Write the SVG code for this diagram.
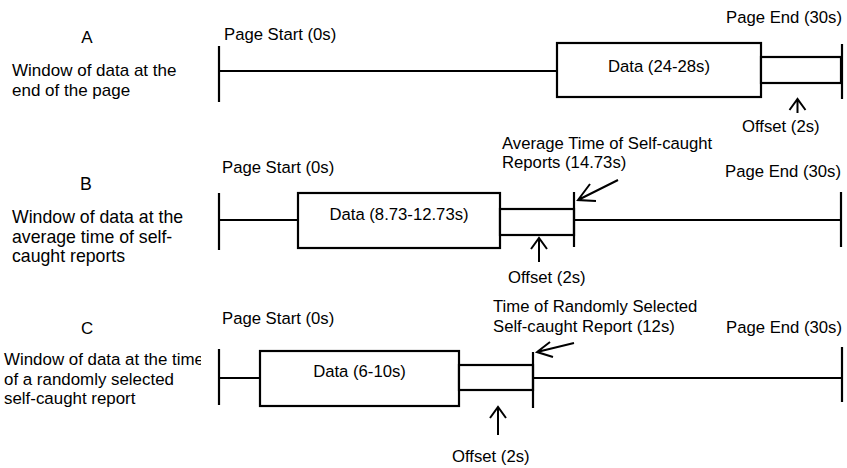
<svg xmlns="http://www.w3.org/2000/svg" width="847" height="468" viewBox="0 0 847 468">
<style>
text{font-family:"Liberation Sans",Arial,sans-serif;fill:#000;font-size:16.7px}
.ln{stroke:#000;stroke-width:2.2;fill:none}
.bx{stroke:#000;stroke-width:2.2;fill:#fff}
.ar{stroke:#000;stroke-width:2;fill:none;stroke-linecap:butt}
.mid{text-anchor:middle}
</style>
<defs>
<clipPath id="clipC"><rect x="0" y="340" width="201" height="80"/></clipPath>
</defs>
<rect width="847" height="468" fill="#fff"/>

<!-- Panel A -->
<g id="panelA">
<g id="A-label">
<text x="87" y="43" class="mid" style="font-size:17px">A</text>
<text x="12" y="76" style="font-size:17px">Window of data at the</text>
<text x="12" y="95.5" style="font-size:17px">end of the page</text>
</g>
<g id="A-start">
<text x="224" y="39.5">Page Start (0s)</text>
<line class="ln" x1="219" y1="46" x2="219" y2="102"/>
</g>
<g id="A-end">
<text x="842" y="23" text-anchor="end">Page End (30s)</text>
<line class="ln" x1="842" y1="44" x2="842" y2="99"/>
</g>
<g id="A-data">
<rect class="bx" x="557" y="43" width="204" height="54"/>
<text x="659" y="72" class="mid">Data (24-28s)</text>
</g>
<g id="A-offset">
<rect class="bx" x="761" y="57" width="80" height="26"/>
<text x="742" y="132">Offset (2s)</text>
</g>
</g>

<!-- Panel B -->
<g id="panelB">
<g id="B-label">
<text x="86" y="190" class="mid" style="font-size:17.7px">B</text>
<text x="12" y="223" style="font-size:17.7px">Window of data at the</text>
<text x="12" y="242.5" style="font-size:17.7px">average time of self-</text>
<text x="12" y="262" style="font-size:17.7px">caught reports</text>
</g>
<g id="B-start">
<text x="222" y="173">Page Start (0s)</text>
<line class="ln" x1="219" y1="193" x2="219" y2="250"/>
</g>
<g id="B-data">
<rect class="bx" x="298" y="193" width="202" height="55"/>
<text x="399" y="220" class="mid">Data (8.73-12.73s)</text>
</g>
<g id="B-offset">
<rect class="bx" x="500" y="209" width="74" height="26"/>
<text x="508" y="283">Offset (2s)</text>
</g>
<g id="B-avg">
<text x="502" y="149">Average Time of Self-caught</text>
<text x="502" y="167.5">Reports (14.73s)</text>
<line class="ln" x1="574" y1="192" x2="574" y2="247"/>
</g>
<g id="B-end">
<text x="841" y="177" text-anchor="end">Page End (30s)</text>
<line class="ln" x1="841" y1="192" x2="841" y2="247"/>
</g>
</g>

<!-- Panel C -->
<g id="panelC">
<g id="C-label">
<text x="87" y="334" class="mid" style="font-size:16.9px">C</text>
<text x="4" y="365" clip-path="url(#clipC)" style="font-size:16.9px">Window of data at the time</text>
<text x="4" y="384.5" style="font-size:16.9px">of a randomly selected</text>
<text x="4" y="404" style="font-size:16.9px">self-caught report</text>
</g>
<g id="C-start">
<text x="222" y="324">Page Start (0s)</text>
<line class="ln" x1="219" y1="349" x2="219" y2="405"/>
</g>
<g id="C-data">
<rect class="bx" x="260" y="351" width="199" height="55"/>
<text x="359.5" y="377" class="mid">Data (6-10s)</text>
</g>
<g id="C-offset">
<rect class="bx" x="459" y="365" width="74" height="25"/>
<text x="452" y="462">Offset (2s)</text>
</g>
<g id="C-rand">
<text x="493" y="312">Time of Randomly Selected</text>
<text x="493" y="332">Self-caught Report (12s)</text>
<line class="ln" x1="533" y1="352" x2="533" y2="408"/>
</g>
<g id="C-end">
<text x="842" y="333" text-anchor="end">Page End (30s)</text>
<line class="ln" x1="842" y1="347" x2="842" y2="402"/>
</g>
</g>

<!-- Connectors -->
<g id="connectors">
<line class="ln" x1="219" y1="71" x2="557" y2="71"/>
<line class="ln" x1="219" y1="220" x2="298" y2="220"/>
<line class="ln" x1="574" y1="220" x2="841" y2="220"/>
<line class="ln" x1="219" y1="378" x2="260" y2="378"/>
<line class="ln" x1="533" y1="378" x2="842" y2="378"/>
<!-- offset arrows -->
<path class="ar" d="M797.5,113 V99 M789.5,110 L797.5,99 L805.5,110"/>
<path class="ar" d="M539,262 V238 M531,249 L539,238 L547,249"/>
<path class="ar" d="M498,435 V407 M490,418 L498,407 L506,418"/>
<!-- time arrows -->
<path class="ar" d="M618,180 L578,200 M590,184 L578,200 L596,201"/>
<path class="ar" d="M574,343 L537,352 M550,342 L537,352 L553,357"/>
</g>
</svg>
